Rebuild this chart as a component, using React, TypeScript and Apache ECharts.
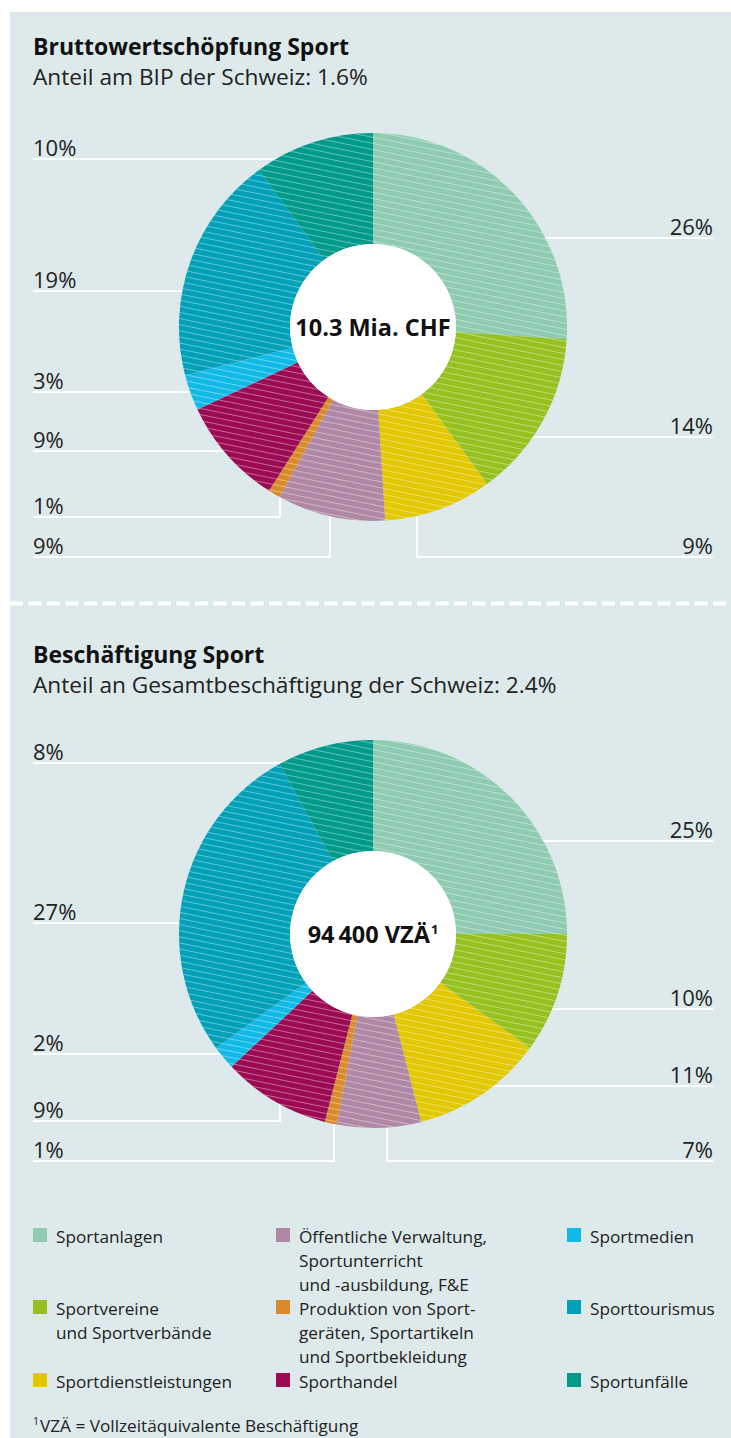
import React, { useEffect, useRef } from 'react';
import * as echarts from 'echarts';

const categories = [
  'Sportanlagen',
  'Sportvereine und Sportverbände',
  'Sportdienstleistungen',
  'Öffentliche Verwaltung, Sportunterricht und -ausbildung, F&E',
  'Produktion von Sportgeräten, Sportartikeln und Sportbekleidung',
  'Sporthandel',
  'Sportmedien',
  'Sporttourismus',
  'Sportunfälle',
];
const legendLabels = [
  'Sportanlagen',
  'Sportvereine\nund Sportverbände',
  'Sportdienstleistungen',
  'Öffentliche Verwaltung,\nSportunterricht\nund -ausbildung, F&E',
  'Produktion von Sport-\ngeräten, Sportartikeln\nund Sportbekleidung',
  'Sporthandel',
  'Sportmedien',
  'Sporttourismus',
  'Sportunfälle',
];
const valueAddedShares = [26, 14, 9, 9, 1, 9, 3, 19, 10];
const employmentShares = [25, 10, 11, 7, 1, 9, 2, 27, 8];
const colors = ['#8ecbb0', '#95c11f', '#e1c800', '#b088a5', '#d98a2a', '#9b0a52', '#11b9e6', '#00a0b8', '#009a8a'];

const titles = ['Bruttowertschöpfung Sport', 'Beschäftigung Sport'];
const subtitles = ['Anteil am BIP der Schweiz: 1.6%', 'Anteil an Gesamtbeschäftigung der Schweiz: 2.4%'];
const centerTexts = ['10.3 Mia. CHF', '94\u2009400 VZÄ{sup|1}'];
const footnote = '{sup|1}VZÄ = Vollzeitäquivalente Beschäftigung';

// layout of leader lines (pixel positions)
type Guide = { side: 'left' | 'right'; lineY: number; ax: number; ay: number };
const guides1: Guide[] = [
  { side: 'right', lineY: 238, ax: 508, ay: 238 },
  { side: 'right', lineY: 437, ax: 508, ay: 437 },
  { side: 'right', lineY: 557, ax: 417, ay: 506 },
  { side: 'left', lineY: 557, ax: 330, ay: 506 },
  { side: 'left', lineY: 517, ax: 280, ay: 492 },
  { side: 'left', lineY: 451, ax: 263, ay: 451 },
  { side: 'left', lineY: 392, ax: 213, ay: 392 },
  { side: 'left', lineY: 291, ax: 213, ay: 291 },
  { side: 'left', lineY: 159, ax: 328, ay: 159 },
];
const guides2: Guide[] = [
  { side: 'right', lineY: 841, ax: 508, ay: 841 },
  { side: 'right', lineY: 1009, ax: 508, ay: 1009 },
  { side: 'right', lineY: 1086, ax: 466, ay: 1086 },
  { side: 'right', lineY: 1161, ax: 387, ay: 1109 },
  { side: 'left', lineY: 1161, ax: 334, ay: 1109 },
  { side: 'left', lineY: 1121, ax: 280, ay: 1095 },
  { side: 'left', lineY: 1054, ax: 235, ay: 1054 },
  { side: 'left', lineY: 923, ax: 213, ay: 923 },
  { side: 'left', lineY: 763, ax: 328, ay: 763 },
];

const FONT = '"Open Sans", "Noto Sans", sans-serif';
const TEXT = '#222222';
const BG = '#dde9ea';
const LEFT_X = 33;
const RIGHT_X = 713;

const hatch = {
  symbol: 'rect',
  symbolSize: 1,
  symbolKeepAspect: false,
  color: 'rgba(255,255,255,0.38)',
  dashArrayX: [20, 0],
  dashArrayY: [1, 5],
  rotation: 0.2,
};

function makeLayout(guides: Guide[]) {
  return (p: any) => {
    const g = guides[p.dataIndex];
    const edgeX = g.side === 'left' ? LEFT_X : RIGHT_X;
    const pts = g.ay === g.lineY
      ? [[g.ax, g.ay], [edgeX, g.lineY]]
      : [[g.ax, g.ay], [g.ax, g.lineY], [edgeX, g.lineY]];
    return {
      x: edgeX,
      y: g.lineY - 12,
      align: g.side,
      verticalAlign: 'middle',
      labelLinePoints: pts,
    };
  };
}

function donut(values: number[], guides: Guide[], cy: number) {
  return {
    type: 'pie',
    center: [373, cy],
    radius: [83, 194],
    startAngle: 90,
    clockwise: true,
    avoidLabelOverlap: false,
    silent: true,
    itemStyle: { borderWidth: 0, decal: hatch },
    data: values.map((v, i) => ({ value: v, name: categories[i], itemStyle: { color: colors[i] } })),
    label: {
      show: true,
      position: 'outside',
      formatter: '{c}%',
      fontFamily: FONT,
      fontSize: 22,
      fontWeight: 400,
      color: TEXT,
    },
    labelLine: {
      show: true,
      length: 10,
      length2: 10,
      smooth: false,
      lineStyle: { color: '#ffffff', width: 2, opacity: 1 },
    },
    labelLayout: makeLayout(guides),
  };
}

function hub(text: string, cy: number) {
  return {
    type: 'pie',
    center: [373, cy],
    radius: [0, 83],
    silent: true,
    itemStyle: { color: '#ffffff', borderWidth: 0 },
    labelLine: { show: false },
    data: [{ value: 1, name: text }],
    label: {
      show: true,
      position: 'center',
      formatter: text,
      fontFamily: FONT,
      fontSize: 23.5,
      fontWeight: 'bold',
      color: '#111111',
      rich: {
        sup: { fontFamily: FONT, fontSize: 13, fontWeight: 'bold', color: '#111111', verticalAlign: 'top', padding: [0, 0, 10, 1] },
      },
    },
  };
}

export default function App() {
  const ref = useRef<HTMLDivElement>(null);
  useEffect(() => {
    if (!ref.current) return;
    const chart = echarts.init(ref.current, undefined, { renderer: 'svg' });

    const legendGraphics: any[] = [];
    const colX = [33, 276, 567];
    const rowY = [1236, 1308, 1381];
    legendLabels.forEach((lbl, i) => {
      const col = Math.floor(i / 3);
      const row = i % 3;
      legendGraphics.push({
        type: 'rect',
        shape: { x: colX[col], y: rowY[row] - 8, width: 14, height: 14 },
        style: { fill: colors[i] },
        silent: true,
      });
      legendGraphics.push({
        type: 'text',
        x: colX[col] + 23,
        y: rowY[row] - 12,
        style: {
          text: lbl,
          fill: TEXT,
          fontSize: 17.2,
          fontFamily: FONT,
          lineHeight: 24,
          verticalAlign: 'top',
          align: 'left',
        },
        silent: true,
      });
    });

    const option: any = {
      animation: false,
      backgroundColor: '#ffffff',
      title: titles.map((t, i) => ({
        text: t,
        subtext: subtitles[i],
        left: LEFT_X,
        top: 30 + i * 608,
        padding: 0,
        itemGap: 0,
        textStyle: { fontFamily: FONT, fontSize: 23, fontWeight: 'bold', color: '#111111', lineHeight: 31 },
        subtextStyle: { fontFamily: FONT, fontSize: 22.7, fontWeight: 400, color: TEXT, lineHeight: 31 },
      })),
      graphic: [
        {
          type: 'rect',
          z: -10,
          shape: { x: 10, y: 12, width: 721, height: 1426 },
          style: { fill: BG },
          silent: true,
        },
        {
          type: 'line',
          shape: { x1: 10, y1: 603.5, x2: 731, y2: 603.5 },
          style: { stroke: '#ffffff', lineWidth: 4, lineDash: [13, 5.5] },
          silent: true,
        },
        ...legendGraphics,
        {
          type: 'text',
          x: LEFT_X,
          y: 1425,
          style: {
            text: footnote,
            fill: TEXT,
            fontSize: 17.2,
            fontFamily: FONT,
            verticalAlign: 'middle',
            rich: {
              sup: { fontSize: 10.5, fontFamily: FONT, fill: TEXT, padding: [0, 1, 8, 0] },
            },
          },
          silent: true,
        },
      ],
      series: [
        donut(valueAddedShares, guides1, 327),
        hub(centerTexts[0], 327),
        donut(employmentShares, guides2, 934),
        hub(centerTexts[1], 934),
      ],
    };
    chart.setOption(option);
    return () => chart.dispose();
  }, []);
  return (
    <div
      ref={ref}
      style={{ position: 'absolute', left: 0, top: 0, width: 731, height: 1438 }}
    />
  );
}
